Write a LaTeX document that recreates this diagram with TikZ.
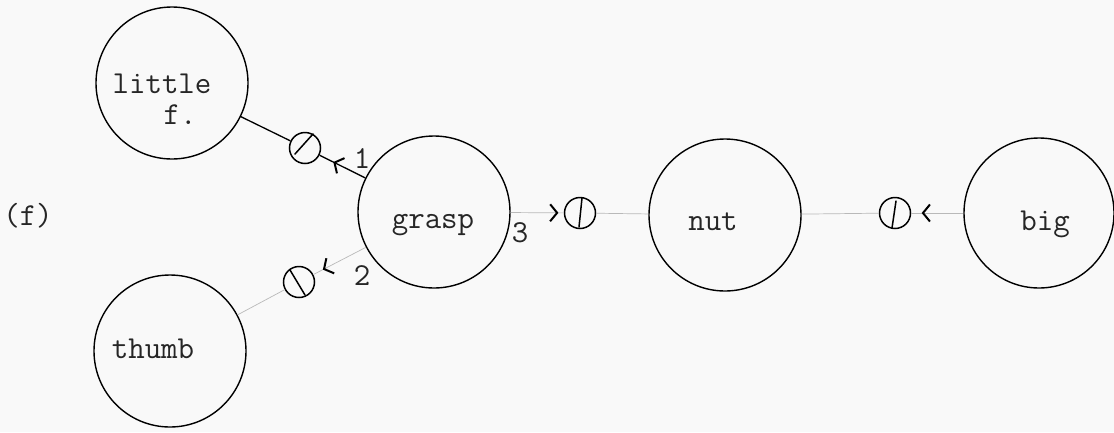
\documentclass[tikz,border=0pt]{standalone}
\usetikzlibrary{arrows.meta,decorations.markings}
\newcommand\diagfont{\fontsize{32}{32}\selectfont\ttfamily}
\begin{document}
\begin{tikzpicture}[x=1pt,y=-1pt,
  ent/.style={circle,draw,line width=1.4pt,minimum size=152pt,inner sep=0pt},
  ring/.style={circle,draw,line width=1.5pt,minimum size=31pt,inner sep=0pt},
  lbl/.style={anchor=base,inner sep=0pt,font=\diagfont,text=black!85},
  dark/.style={line width=1.3pt},
  faint/.style={line width=0.7pt,draw=gray!55},
  slash/.style={line width=1.5pt,line cap=round},
  tipat/.style={postaction={decorate},decoration={markings,mark=at position #1 with {\arrow[black,line width=2pt]{Straight Barb[length=7pt,width=17pt]}}}}
]
\fill[gray!5] (0,0) rectangle (1114,432);
\useasboundingbox (0,0) rectangle (1114,432);

% main circles
\node[ent] (lf) at (172,83) {};
\node[ent] (th) at (170,351) {};
\node[ent] (gr) at (434,212) {};
\node[ent] (nut) at (725,215) {};
\node[ent,minimum size=150pt] (bg) at (1039,213) {};

% small rings
\node[ring] (s1) at (305,148) {};
\node[ring] (s2) at (299,282) {};
\node[ring] (s3) at (580,213) {};
\node[ring] (s4) at (895,213) {};

% strokes inside rings
\draw[slash] (s1.center) ++(-10,6) -- ++(18,-20);
\draw[slash] (s2.center) ++(-9,-12) -- ++(15,25);
\draw[slash] (s3.center) ++(2,-15) -- ++(-3,29);
\draw[slash] (s4.center) ++(1,-12) -- ++(-4,27);

% connectors
\draw[dark] (lf) -- (s1);
\draw[dark,tipat=0.7] (gr) -- (s1);
\draw[faint,tipat=0.82] (gr) -- (s2);
\draw[faint] (s2) -- (th);
\draw[faint,tipat=0.9] (gr) -- (s3);
\draw[faint] (s3) -- (nut);
\draw[faint,tipat=0.8] (bg) -- (s4);
\draw[faint] (s4) -- (nut);

% texts
\node[lbl] (t1) at (162,93) {little};
\node[lbl] (t1b) at (180,124) {f.};
\node[lbl] (t2) at (153,358) {thumb};
\node[lbl] (t3) at (433,228) {grasp};
\node[lbl] (t4) at (713,230) {nut};
\node[lbl] (t5) at (1045,230) {big};
\node[lbl] (n1) at (362,168) {1};
\node[lbl] (n2) at (362,285) {2};
\node[lbl] (n3) at (520,242) {3};
\node[lbl] (fl) at (28,225) {(f)};
\end{tikzpicture}
\end{document}
